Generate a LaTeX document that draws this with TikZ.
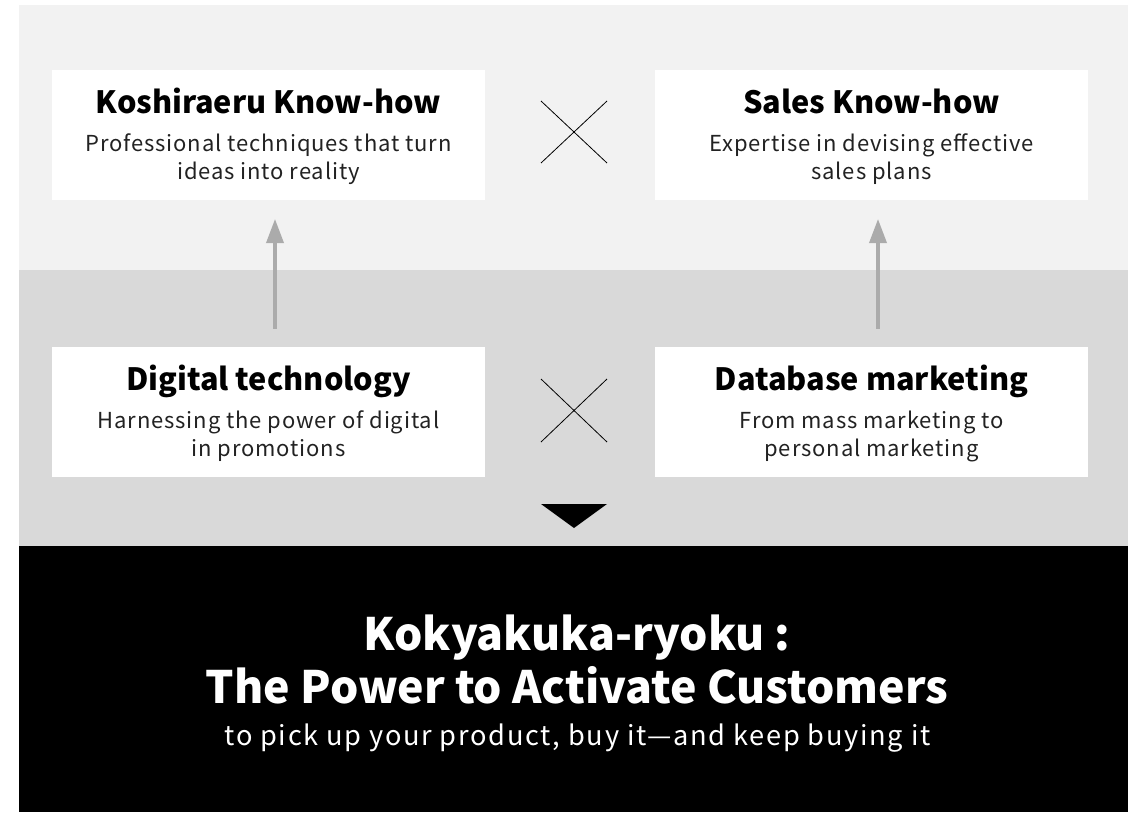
\documentclass[tikz,border=0pt]{standalone}
\usepackage{fontspec}
\setmainfont{Noto Sans CJK JP}
\newfontfamily\descfont{Noto Sans CJK JP}[LetterSpace=4]
\newfontfamily\subfont{Noto Sans CJK JP}[LetterSpace=6.3]
\usetikzlibrary{arrows.meta}
\definecolor{bandA}{HTML}{F2F2F2}
\definecolor{bandB}{HTML}{D9D9D9}
\definecolor{arrowgray}{HTML}{ABABAB}
\definecolor{desc}{HTML}{222222}
\tikzset{
  card/.style={fill=white, draw=none, minimum width=433pt, minimum height=130pt, inner sep=0pt, outer sep=0pt},
  cardtitle/.style={anchor=base, inner sep=0pt, font=\fontsize{30.7}{36}\selectfont\bfseries},
  carddesc/.style={anchor=base, inner sep=0pt, text=desc, font=\descfont\fontsize{22}{28}\selectfont},
  uparrow/.style={draw=arrowgray, line width=3.5pt, -{Triangle[width=17pt,length=24pt]}},
  cross/.style={draw=black, line width=0.8pt},
  maintitle/.style={anchor=base, inner sep=0pt, text=white, font=\fontsize{44.6}{50}\selectfont\bfseries},
  mainsub/.style={anchor=base, inner sep=0pt, text=white, font=\subfont\fontsize{27.2}{30}\selectfont},
}
\begin{document}
\begin{tikzpicture}[x=1pt,y=-1pt]
\useasboundingbox (0,0) rectangle (1138,812);
\fill[white] (0,0) rectangle (1138,812);
% bands
\fill[bandA] (19,5) rectangle (1128,270);
\fill[bandB] (19,270) rectangle (1128,546);
\fill[black] (19,546) rectangle (1128,812);
% cards
\node[card] (k) at (268.5,135) {};
\node[card] (s) at (871.5,135) {};
\node[card] (d) at (268.5,411.5) {};
\node[card] (m) at (871.5,411.5) {};
% texts
\node[cardtitle] (kt) at (268.5,113) {Koshiraeru Know-how};
\node[carddesc] (kd1) at (268.5,151) {Professional techniques that turn};
\node[carddesc] (kd2) at (268.5,179) {ideas into reality};
\node[cardtitle] (st) at (871.5,113) {Sales Know-how};
\node[carddesc] (sd1) at (871.5,151) {Expertise in devising effective};
\node[carddesc] (sd2) at (871.5,179) {sales plans};
\node[cardtitle] (dt) at (268.5,390) {Digital technology};
\node[carddesc] (dd1) at (268.5,428) {Harnessing the power of digital};
\node[carddesc] (dd2) at (268.5,456) {in promotions};
\node[cardtitle] (mt) at (871.5,390) {Database marketing};
\node[carddesc] (md1) at (871.5,428) {From mass marketing to};
\node[carddesc] (md2) at (871.5,456) {personal marketing};
% arrows
\coordinate (a1s) at ([xshift=6.5pt,yshift=18pt]d.north);
\coordinate (a1e) at ([xshift=6.5pt,yshift=-19pt]k.south);
\coordinate (a2s) at ([xshift=6.5pt,yshift=18pt]m.north);
\coordinate (a2e) at ([xshift=6.5pt,yshift=-19pt]s.south);
\draw[uparrow] (a1s) -- (a1e);
\draw[uparrow] (a2s) -- (a2e);
% crosses
\coordinate (c1a) at (541,101); \coordinate (c1b) at (607,163);
\coordinate (c1c) at (541,163); \coordinate (c1d) at (607,101);
\draw[cross] (c1a) -- (c1b);
\draw[cross] (c1c) -- (c1d);
\coordinate (c2a) at (541,379); \coordinate (c2b) at (607,442);
\coordinate (c2c) at (541,442); \coordinate (c2d) at (607,379);
\draw[cross] (c2a) -- (c2b);
\draw[cross] (c2c) -- (c2d);
% down triangle
\fill[black] (541,504) -- (607,504) -- (574,528) -- cycle;
% main text
\node[maintitle] (m1) at (577,650) {Kokyakuka-ryoku :};
\node[maintitle] (m2) at (577,703) {The Power to Activate Customers};
\node[mainsub] (m3) at (577.5,745) {to pick up your product, buy it—and keep buying it};
\end{tikzpicture}
\end{document}
